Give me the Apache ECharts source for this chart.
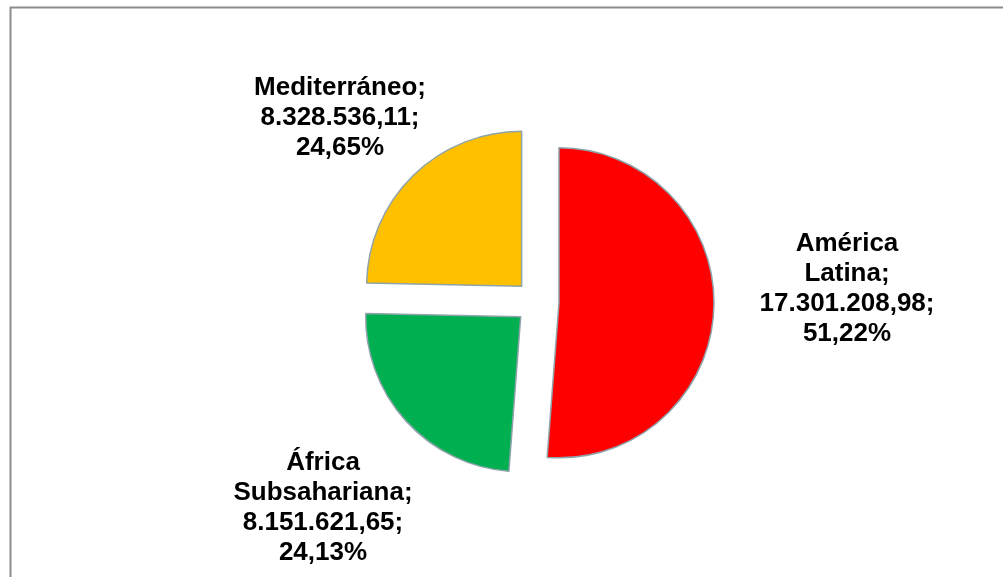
<!DOCTYPE html>
<html>
<head>
<meta charset="utf-8">
<script src="https://cdn.jsdelivr.net/npm/echarts@6/dist/echarts.min.js"></script>
<style>
html,body{margin:0;padding:0;background:#fff;}
#chart{width:1003px;height:577px;}
</style>
</head>
<body>
<div id="chart"></div>
<script>
var categories = ['América Latina', 'África Subsahariana', 'Mediterráneo'];
var values = [17301208.98, 8151621.65, 8328536.11];
var colors = ['#FF0000', '#00B050', '#FFC000'];
var labelPos = [[847, 289], [323, 508], [340, 118]];

function fmtEs(v) {
  var parts = v.toFixed(2).split('.');
  var intPart = parts[0].replace(/\B(?=(\d{3})+(?!\d))/g, '.');
  return intPart + ',' + parts[1];
}
var total = values.reduce(function (a, b) { return a + b; }, 0);
function labelText(i) {
  var pct = (values[i] / total * 100).toFixed(2).replace('.', ',');
  return categories[i].replace(' ', '\n') + ';\n' + fmtEs(values[i]) + ';\n' + pct + '%';
}

var chart = echarts.init(document.getElementById('chart'));
var data = categories.map(function (c, i) {
  return { name: c, value: values[i], selected: true, itemStyle: { color: colors[i] } };
});

var graphics = [{
  type: 'rect',
  shape: { x: 10.5, y: 7.5, width: 1200, height: 800 },
  style: { fill: 'none', stroke: '#8c8c8c', lineWidth: 2 },
  silent: true
}];
categories.forEach(function (c, i) {
  graphics.push({
    type: 'text',
    x: labelPos[i][0],
    y: labelPos[i][1],
    silent: true,
    style: {
      text: labelText(i),
      fill: '#000',
      font: 'bold 26px "Liberation Sans", Arial, sans-serif',
      lineHeight: 30,
      align: 'center',
      verticalAlign: 'middle'
    }
  });
});

chart.setOption({
  animation: false,
  backgroundColor: '#ffffff',
  graphic: graphics,
  series: [{
    type: 'pie',
    center: [537, 302],
    radius: [0, 155],
    startAngle: 90,
    clockwise: true,
    selectedMode: 'multiple',
    selectedOffset: 22,
    emphasis: { disabled: true },
    itemStyle: { borderColor: '#8EA3AA', borderWidth: 1.5 },
    label: { show: false },
    labelLine: { show: false },
    data: data
  }]
});
</script>
</body>
</html>
